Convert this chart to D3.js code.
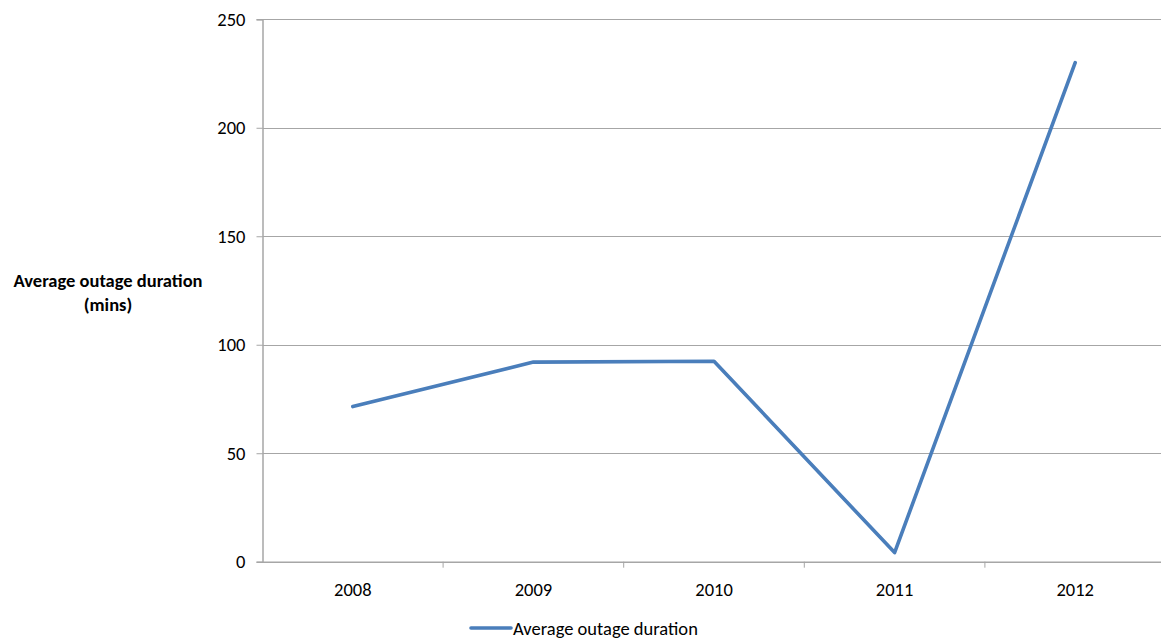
<!DOCTYPE html>
<html>
<head>
<meta charset="utf-8">
<script src="https://cdn.jsdelivr.net/npm/d3@7"></script>
<style>
  html, body { margin: 0; padding: 0; background: #fff; }
  svg { display: block; }
  text { font-family: Carlito, Lato, "Open Sans", sans-serif; fill: #000; }
</style>
</head>
<body>
<svg id="chart" width="1161" height="639"></svg>
<script>
// Outage statistics by year
const years = ["2008", "2009", "2010", "2011", "2012"];
const avgOutageMins = [71.5, 92, 92.4, 4.2, 230];
const yTicks = [0, 50, 100, 150, 200, 250];
const seriesName = "Average outage duration";
const yTitle = ["Average outage duration", "(mins)"];

const svg = d3.select("#chart");
const plot = { left: 262.5, right: 1165.5, top: 19.3, bottom: 561.7 };
const fontSize = "18.5px";
const seriesColor = "#4a7ebb";

const x = d3.scaleBand().domain(years).range([plot.left, plot.right]).paddingInner(0).paddingOuter(0);
const y = d3.scaleLinear().domain([0, 250]).range([plot.bottom, plot.top]);

const gridColor = "#a6a6a6";

// horizontal gridlines
svg.append("g")
  .selectAll("line")
  .data(yTicks.filter(d => d > 0))
  .join("line")
  .attr("x1", plot.left).attr("x2", 1161)
  .attr("y1", d => Math.round(y(d)) + 0.5).attr("y2", d => Math.round(y(d)) + 0.5)
  .attr("stroke", gridColor).attr("stroke-width", 1);

// y axis
const yAxis = svg.append("g")
  .attr("transform", `translate(${plot.left},0)`)
  .call(d3.axisLeft(y).tickValues(yTicks).tickSize(6).tickPadding(11));
yAxis.select(".domain").attr("stroke", gridColor).attr("stroke-width", 1.5);
yAxis.selectAll(".tick line").attr("stroke", gridColor);
yAxis.selectAll(".tick text").style("font-size", fontSize).attr("fill", "#000");

// x axis
const xAxis = svg.append("g")
  .attr("transform", `translate(0,${plot.bottom})`)
  .call(d3.axisBottom(x).tickSize(0).tickPadding(21));
xAxis.select(".domain").attr("stroke", gridColor).attr("stroke-width", 1.5);
xAxis.selectAll(".tick text").style("font-size", fontSize).attr("fill", "#000");
// category boundary tick marks
xAxis.append("g")
  .selectAll("line")
  .data(years.slice(1))
  .join("line")
  .attr("x1", d => x(d)).attr("x2", d => x(d))
  .attr("y1", 0).attr("y2", 6)
  .attr("stroke", gridColor).attr("stroke-width", 1);

// series line
const line = d3.line()
  .x((d, i) => x(years[i]) + x.bandwidth() / 2)
  .y(d => y(d));
svg.append("path")
  .datum(avgOutageMins)
  .attr("d", line)
  .attr("fill", "none")
  .attr("stroke", seriesColor)
  .attr("stroke-width", 3.6)
  .attr("stroke-linejoin", "round")
  .attr("stroke-linecap", "round");

// y axis title
svg.append("text")
  .attr("x", 108).attr("y", 287)
  .attr("text-anchor", "middle")
  .style("font-size", fontSize).style("font-weight", "bold")
  .selectAll("tspan")
  .data(yTitle)
  .join("tspan")
  .attr("x", 108)
  .attr("dy", (d, i) => i === 0 ? 0 : 24)
  .text(d => d);

// legend
const lg = svg.append("g").attr("transform", "translate(471,628)");
lg.append("line").attr("x1", 0).attr("x2", 40).attr("y1", 0).attr("y2", 0)
  .attr("stroke", seriesColor).attr("stroke-width", 3.6).attr("stroke-linecap", "round");
lg.append("text").attr("x", 42).attr("y", 6.5).style("font-size", fontSize).text(seriesName);
</script>
</body>
</html>
